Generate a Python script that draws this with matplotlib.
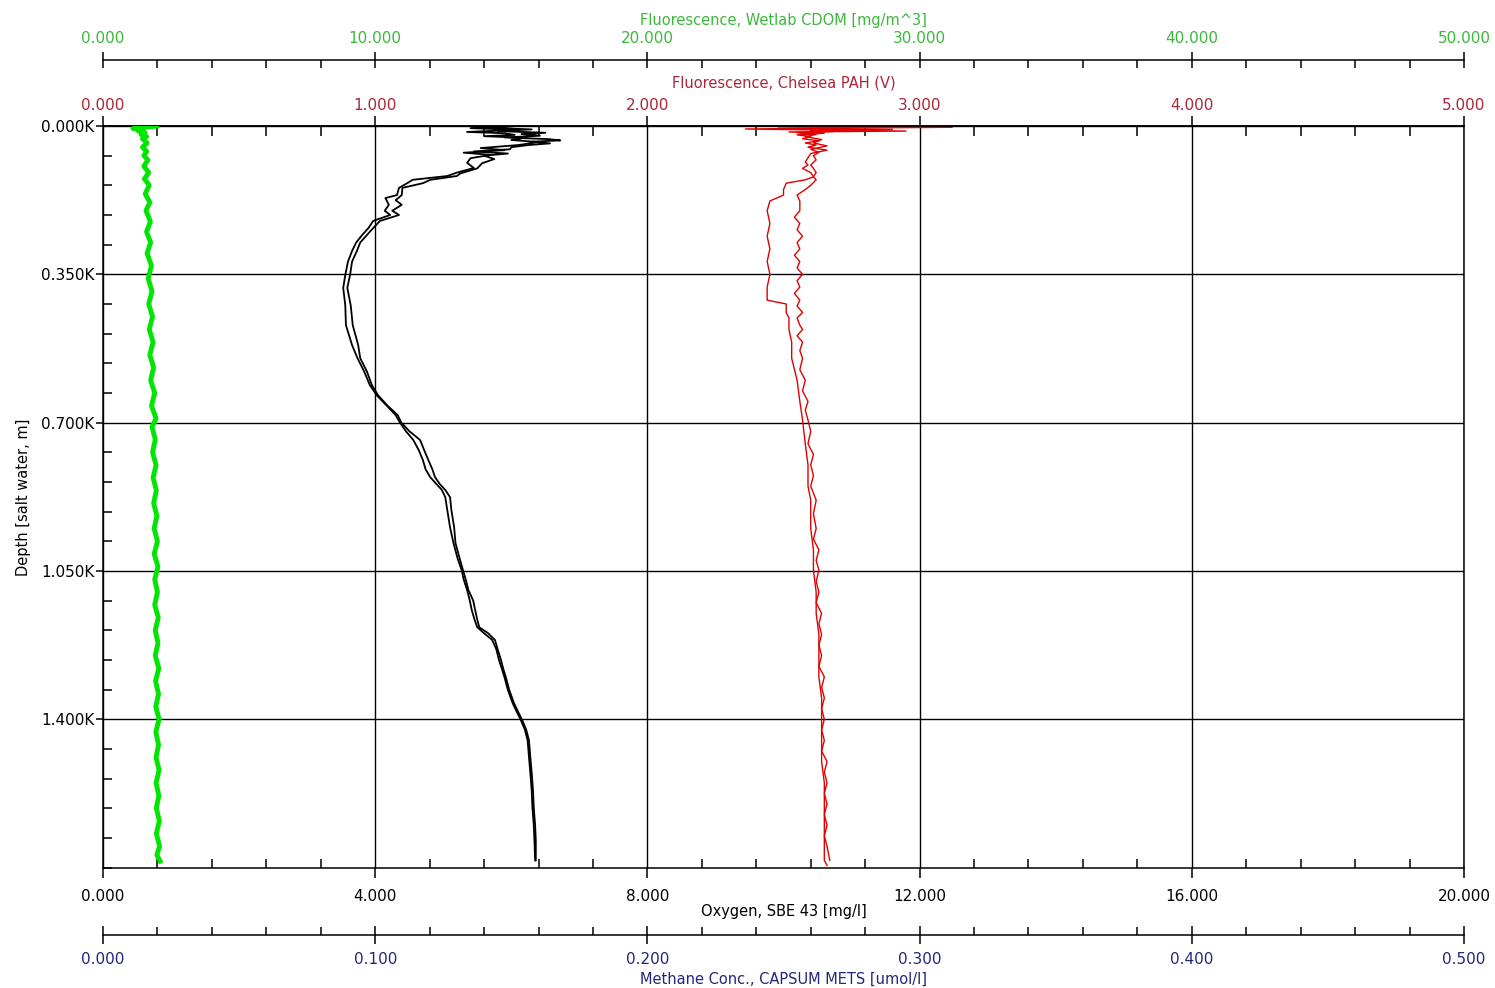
import numpy as np
import matplotlib.pyplot as plt
from matplotlib.ticker import MultipleLocator, FixedLocator, FuncFormatter

# Oxygen, SBE 43 [mg/l] - two casts (down / up)
depth_o2_a = [0, 5, 9, 14, 17, 21, 24, 28, 33, 38, 45, 52, 57, 63, 68, 76, 87, 99, 110, 118,
              127, 135, 146, 163, 170, 186, 200, 210, 224, 241, 257, 275, 295, 320, 352, 382,
              423, 470, 517, 548, 580, 611, 635, 660, 682, 699, 720, 741, 765, 788, 810, 829,
              845, 859, 876, 907, 947, 984, 1020, 1048, 1070, 1095, 1120, 1143, 1165, 1183,
              1197, 1213, 1235, 1261, 1280, 1301, 1331, 1362, 1379, 1402, 1425, 1450, 1490,
              1527, 1570, 1608, 1650, 1686, 1733]
oxygen_a = [5.95, 5.40, 6.10, 5.35, 5.90, 6.05, 5.60, 6.20, 6.00, 6.40, 6.10, 5.55, 5.90, 5.30,
            5.70, 5.40, 5.35, 5.45, 5.20, 5.06, 4.55, 4.47, 4.35, 4.32, 4.15, 4.20, 4.14, 4.22,
            3.97, 3.90, 3.81, 3.72, 3.66, 3.60, 3.56, 3.53, 3.56, 3.57, 3.66, 3.74, 3.84, 3.92,
            4.02, 4.17, 4.30, 4.36, 4.45, 4.56, 4.64, 4.70, 4.74, 4.81, 4.90, 4.98, 5.03, 5.06,
            5.10, 5.15, 5.21, 5.27, 5.30, 5.35, 5.39, 5.42, 5.46, 5.50, 5.60, 5.72, 5.78, 5.82,
            5.86, 5.90, 5.95, 6.02, 6.07, 6.14, 6.20, 6.24, 6.26, 6.28, 6.30, 6.31, 6.33, 6.34,
            6.35]

depth_o2_b = [0, 4, 8, 12, 16, 19, 23, 27, 31, 34, 37, 41, 45, 50, 55, 60, 65, 70, 78, 88, 100,
              112, 118, 127, 135, 146, 163, 175, 186, 200, 210, 224, 241, 257, 275, 295, 320,
              352, 382, 423, 470, 517, 548, 580, 611, 635, 660, 682, 699, 720, 741, 765, 788,
              810, 829, 845, 859, 876, 907, 947, 984, 1020, 1048, 1070, 1095, 1120, 1143, 1165,
              1183, 1197, 1213, 1235, 1261, 1280, 1301, 1331, 1362, 1379, 1402, 1425, 1450,
              1490, 1527, 1570, 1608, 1650, 1686, 1733]
oxygen_b = [6.10, 5.60, 6.30, 5.80, 6.50, 6.15, 6.42, 5.90, 6.55, 6.72, 6.30, 6.57, 6.25, 6.00,
            5.98, 5.45, 5.95, 5.60, 5.75, 5.57, 5.50, 5.25, 5.20, 4.81, 4.70, 4.40, 4.39, 4.30,
            4.39, 4.25, 4.35, 4.07, 3.97, 3.88, 3.78, 3.73, 3.66, 3.63, 3.59, 3.64, 3.67, 3.75,
            3.78, 3.88, 3.95, 4.04, 4.18, 4.33, 4.38, 4.50, 4.66, 4.72, 4.78, 4.84, 4.88, 4.95,
            5.03, 5.10, 5.12, 5.16, 5.18, 5.24, 5.29, 5.33, 5.37, 5.44, 5.47, 5.50, 5.53, 5.66,
            5.76, 5.80, 5.85, 5.88, 5.92, 5.97, 6.04, 6.09, 6.16, 6.22, 6.26, 6.28, 6.30, 6.32,
            6.33, 6.35, 6.36, 6.36]

# Fluorescence, Chelsea PAH (V)
depth_pah_a = [0, 3, 5, 7, 9, 12, 14, 17, 21, 25, 30, 35, 40, 45, 50, 57, 65, 75, 85, 92, 100,
               110, 120, 127, 135, 150, 163, 177, 200, 230, 260, 290, 320, 350, 380, 411, 420,
               440, 453, 480, 510, 548, 600, 650, 694, 750, 800, 850, 883, 950, 1000, 1048,
               1100, 1150, 1200, 1250, 1300, 1350, 1400, 1450, 1500, 1550, 1600, 1650, 1700,
               1733, 1745]
pah_a = [2.62, 3.12, 2.70, 2.36, 2.58, 2.95, 2.52, 2.65, 2.55, 2.60, 2.57, 2.63, 2.58, 2.62,
         2.59, 2.66, 2.60, 2.59, 2.58, 2.59, 2.57, 2.60, 2.61, 2.58, 2.51, 2.50, 2.50, 2.45,
         2.44, 2.45, 2.44, 2.45, 2.44, 2.45, 2.44, 2.44, 2.51, 2.51, 2.52, 2.52, 2.53, 2.53,
         2.55, 2.56, 2.57, 2.58, 2.59, 2.59, 2.60, 2.60, 2.61, 2.61, 2.62, 2.62, 2.63, 2.63,
         2.63, 2.64, 2.64, 2.64, 2.64, 2.65, 2.65, 2.65, 2.65, 2.65, 2.66]

depth_pah_b = [0, 3, 5, 8, 10, 13, 16, 20, 25, 32, 40, 47, 55, 62, 70, 80, 92, 100, 110, 120,
               127, 140, 150, 163, 177, 200, 215, 230, 245, 260, 275, 290, 305, 320, 335, 350,
               365, 380, 395, 411, 425, 440, 453, 470, 480, 495, 510, 530, 548, 575, 600, 625,
               650, 670, 694, 720, 750, 775, 800, 825, 850, 883, 915, 950, 975, 1000, 1025,
               1048, 1075, 1100, 1125, 1150, 1175, 1200, 1225, 1250, 1275, 1300, 1325, 1350,
               1375, 1400, 1425, 1450, 1475, 1500, 1525, 1550, 1575, 1600, 1625, 1650, 1675,
               1700, 1733]
pah_b = [2.58, 2.80, 2.48, 2.90, 2.60, 2.68, 2.55, 2.62, 2.58, 2.64, 2.61, 2.66, 2.60, 2.63,
         2.61, 2.62, 2.60, 2.61, 2.62, 2.61, 2.62, 2.60, 2.58, 2.55, 2.56, 2.56, 2.54, 2.56,
         2.55, 2.57, 2.55, 2.56, 2.54, 2.56, 2.55, 2.57, 2.55, 2.56, 2.54, 2.56, 2.55, 2.57,
         2.55, 2.56, 2.57, 2.55, 2.57, 2.56, 2.57, 2.56, 2.58, 2.57, 2.59, 2.58, 2.59, 2.60,
         2.59, 2.61, 2.60, 2.61, 2.60, 2.62, 2.61, 2.62, 2.61, 2.63, 2.62, 2.63, 2.62, 2.63,
         2.62, 2.64, 2.63, 2.64, 2.63, 2.64, 2.63, 2.65, 2.64, 2.65, 2.64, 2.65, 2.64, 2.65,
         2.64, 2.66, 2.65, 2.66, 2.65, 2.66, 2.65, 2.66, 2.65, 2.66, 2.67]

# Fluorescence, Wetlab CDOM [mg/m^3]
depth_cdom = [0, 3, 6, 9, 12, 16, 20, 25, 30, 40, 50, 60, 70, 80, 95, 110, 125, 140, 160, 180,
              200, 225, 250, 275, 300, 330, 360, 390, 420, 450, 480, 510, 540, 570, 600, 630,
              660, 690, 710, 740, 770, 800, 830, 860, 890, 920, 950, 980, 1010, 1040, 1070,
              1100, 1130, 1160, 1190, 1220, 1250, 1280, 1310, 1340, 1370, 1400, 1430, 1460,
              1490, 1520, 1550, 1580, 1610, 1640, 1670, 1700, 1720, 1735]
cdom = [1.98, 1.60, 1.10, 1.45, 1.30, 1.55, 1.40, 1.60, 1.45, 1.62, 1.45, 1.60, 1.50, 1.65,
        1.50, 1.68, 1.52, 1.70, 1.55, 1.72, 1.58, 1.74, 1.60, 1.75, 1.62, 1.78, 1.66, 1.80,
        1.68, 1.82, 1.70, 1.84, 1.72, 1.86, 1.75, 1.90, 1.78, 1.95, 1.80, 1.92, 1.82, 1.95,
        1.84, 1.96, 1.86, 1.98, 1.88, 2.00, 1.88, 2.02, 1.90, 2.00, 1.90, 2.03, 1.92, 2.02,
        1.92, 2.05, 1.93, 2.04, 1.94, 2.06, 1.94, 2.04, 1.95, 2.06, 1.95, 2.05, 1.96, 2.07,
        1.96, 2.08, 1.98, 2.10]

depth_major = [0, 350, 700, 1050, 1400]

# couleurs
green_txt = '#3cb83c'
red_txt = '#a8283a'
navy_txt = '#25257e'
fs = 11
px = 72 / 100  # 1 pixel en points

fig = plt.figure(figsize=(14.95, 9.88), dpi=100)
ax = fig.add_axes([103 / 1495, 120 / 988, 1361 / 1495, 742 / 988])

# axe principal: oxygene (bas) + profondeur (gauche)
ax.set_xlim(0, 20)
ax.set_ylim(1751, 0)
ax.xaxis.set_major_locator(MultipleLocator(4))
ax.xaxis.set_minor_locator(MultipleLocator(0.8))
ax.yaxis.set_major_locator(FixedLocator(depth_major))
ax.yaxis.set_minor_locator(MultipleLocator(70))
ax.xaxis.set_major_formatter(FuncFormatter(lambda v, p: f'{v:.3f}'))
ax.yaxis.set_major_formatter(FuncFormatter(lambda v, p: f'{v / 1000:.3f}K'))
ax.tick_params(axis='x', which='major', direction='out', length=10 * px, width=1.1,
               labelsize=fs, pad=8)
ax.tick_params(axis='x', which='minor', direction='in', length=9 * px, width=1.1)
ax.tick_params(axis='y', which='major', direction='out', length=7 * px, width=1.1,
               labelsize=fs, pad=1)
ax.tick_params(axis='y', which='minor', direction='in', length=9 * px, width=1.1)
ax.tick_params(top=False, right=False, which='both')
ax.grid(True, which='major', color='black', linewidth=1.0)
for s in ax.spines.values():
    s.set_linewidth(1.1)
ax.set_xlabel('Oxygen, SBE 43 [mg/l]', fontsize=10.5, labelpad=0)
ax.set_ylabel('Depth [salt water, m]', fontsize=10.5, labelpad=7)
ax.plot(oxygen_a, depth_o2_a, color='black', linewidth=1.3)
ax.plot(oxygen_b, depth_o2_b, color='black', linewidth=1.3)

# axe PAH (haut du cadre)
ax_pah = ax.twiny()
ax_pah.set_xlim(0, 5)
ax_pah.xaxis.set_major_locator(MultipleLocator(1))
ax_pah.xaxis.set_minor_locator(MultipleLocator(0.2))
ax_pah.xaxis.set_major_formatter(FuncFormatter(lambda v, p: f'{v:.3f}'))
ax_pah.tick_params(axis='x', which='major', direction='out', length=10 * px, width=1.1,
                   labelsize=fs, labelcolor=red_txt, pad=2.5)
ax_pah.tick_params(axis='x', which='minor', direction='in', length=10 * px, width=1.1)
for k in ['bottom', 'left', 'right']:
    ax_pah.spines[k].set_visible(False)
ax_pah.spines['top'].set_linewidth(1.1)
ax_pah.set_xlabel('Fluorescence, Chelsea PAH (V)', fontsize=10.5, color=red_txt, labelpad=7.3)
ax_pah.plot(pah_a, depth_pah_a, color='#e00000', linewidth=1.0)
ax_pah.plot(pah_b, depth_pah_b, color='#e00000', linewidth=1.0)

# axe CDOM (decale en haut)
ax_cdom = ax.twiny()
ax_cdom.set_xlim(0, 50)
ax_cdom.spines['top'].set_position(('outward', 66 * px))
ax_cdom.xaxis.set_major_locator(MultipleLocator(10))
ax_cdom.xaxis.set_minor_locator(MultipleLocator(2))
ax_cdom.xaxis.set_major_formatter(FuncFormatter(lambda v, p: f'{v:.3f}'))
ax_cdom.tick_params(axis='x', which='major', direction='inout', length=16 * px, width=1.1,
                    labelsize=fs, labelcolor=green_txt, pad=4.6)
ax_cdom.tick_params(axis='x', which='minor', direction='in', length=8 * px, width=1.1)
for k in ['bottom', 'left', 'right']:
    ax_cdom.spines[k].set_visible(False)
ax_cdom.spines['top'].set_linewidth(1.1)
ax_cdom.set_xlabel('Fluorescence, Wetlab CDOM [mg/m^3]', fontsize=10.5, color=green_txt,
                   labelpad=4)
ax_cdom.plot(cdom, depth_cdom, color='#00e600', linewidth=3.5)

# axe methane (decale en bas), pas de donnees
ax_ch4 = ax.twiny()
ax_ch4.set_xlim(0, 0.5)
ax_ch4.xaxis.set_ticks_position('bottom')
ax_ch4.xaxis.set_label_position('bottom')
ax_ch4.spines['bottom'].set_position(('outward', 67 * px))
ax_ch4.spines['bottom'].set_visible(True)
for k in ['top', 'left', 'right']:
    ax_ch4.spines[k].set_visible(False)
ax_ch4.spines['bottom'].set_linewidth(1.1)
ax_ch4.xaxis.set_major_locator(MultipleLocator(0.1))
ax_ch4.xaxis.set_minor_locator(MultipleLocator(0.02))
ax_ch4.xaxis.set_major_formatter(FuncFormatter(lambda v, p: f'{v:.3f}'))
ax_ch4.tick_params(axis='x', which='major', direction='inout', length=18 * px, width=1.1,
                   labelsize=fs, labelcolor=navy_txt, pad=5.6)
ax_ch4.tick_params(axis='x', which='minor', direction='in', length=8 * px, width=1.1)
ax_ch4.set_xlabel('Methane Conc., CAPSUM METS [umol/l]', fontsize=10.5, color=navy_txt,
                  labelpad=3.6)

fig.savefig('out.png', dpi=100)
